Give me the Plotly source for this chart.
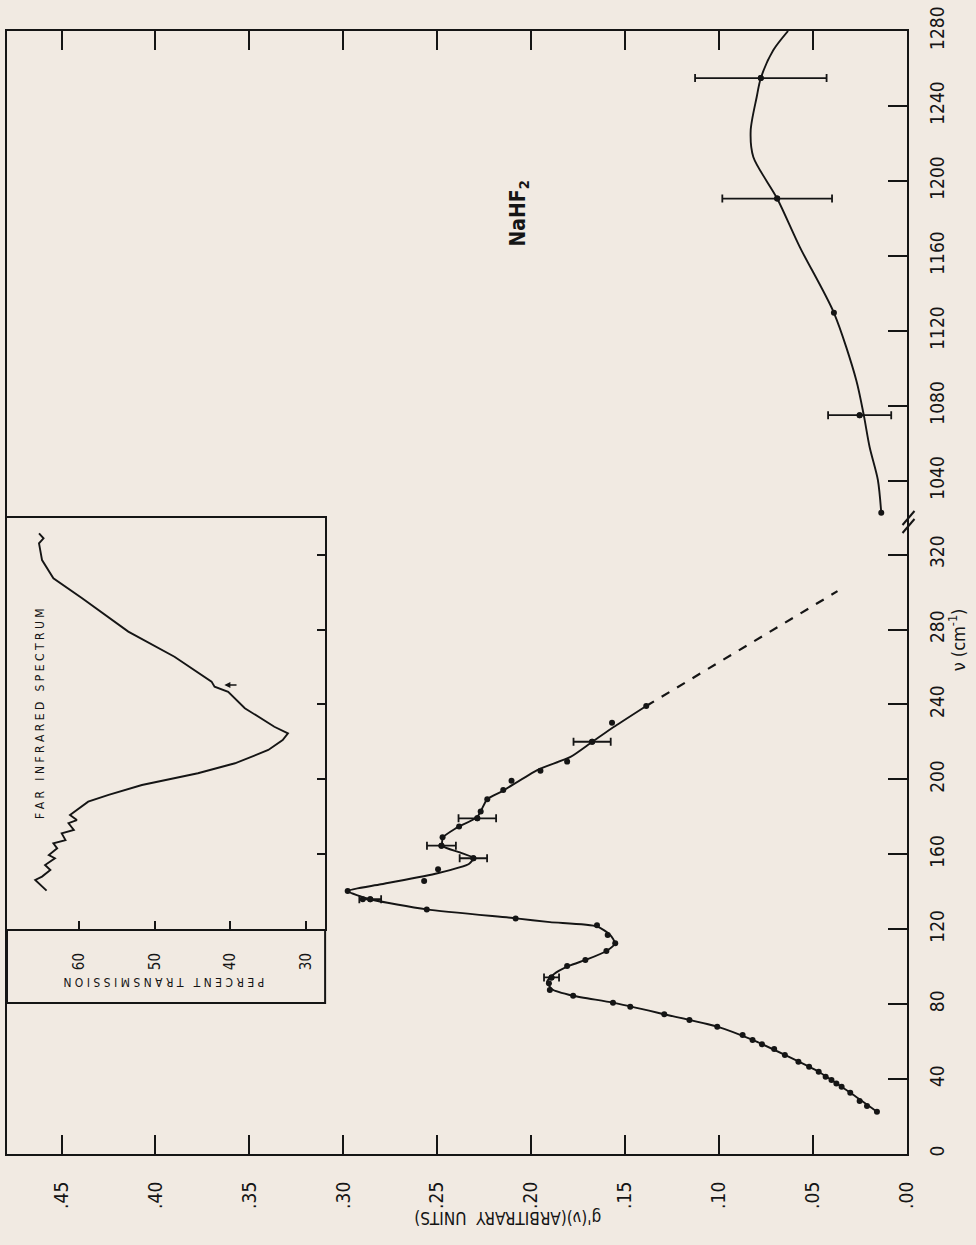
import plotly.graph_objects as go

# ---------------- data ----------------
# main measured points, lower wavenumber segment (nu in cm^-1, g'(nu) arbitrary units)
nu_pts_low = [22.6, 25.6, 28.3, 32.7, 35.9, 37.7, 39.5, 41.3, 43.9, 46.6, 49.3, 52.9, 56.1, 58.6,
              60.9, 63.5, 68.0, 71.5, 74.6, 78.6, 80.8, 84.5, 87.6, 91.1, 94.3, 100.4, 103.6, 108.4,
              112.5, 116.9, 122.1, 125.8, 130.6, 136.0, 136.0, 140.4, 145.8, 152.0, 157.9, 164.6,
              169.1, 174.8, 179.2, 182.8, 189.4, 194.3, 199.3, 204.6, 209.5, 220.1, 230.3, 239.2]
g_pts_low = [0.0160, 0.0213, 0.0252, 0.0302, 0.0348, 0.0376, 0.0402, 0.0433, 0.0470, 0.0521, 0.0578,
             0.0650, 0.0707, 0.0772, 0.0822, 0.0875, 0.1010, 0.1158, 0.1292, 0.1473, 0.1565, 0.1777,
             0.1901, 0.1906, 0.1892, 0.1809, 0.1712, 0.1600, 0.1553, 0.1593, 0.1650, 0.2083, 0.2556,
             0.2897, 0.2857, 0.2977, 0.2570, 0.2496, 0.2308, 0.2478, 0.2472, 0.2384, 0.2287, 0.2269,
             0.2234, 0.2149, 0.2105, 0.1951, 0.1809, 0.1676, 0.1570, 0.1388]

# points carrying error bars (lower segment)
nu_err_low = [94.3, 136.0, 157.9, 164.6, 179.2, 220.1]
g_err_low = [0.1892, 0.2857, 0.2308, 0.2478, 0.2287, 0.1676]
e_low = [0.0040, 0.0058, 0.0073, 0.0077, 0.0100, 0.0099]

# smooth curve drawn through the lower points
curve_nu_low = [22.6, 32.7, 43.9, 52.9, 60.9, 68.0, 74.6, 80.8, 84.5, 88.0, 92.0, 96.0, 100.4, 104.0,
                108.4, 112.5, 117.0, 121.5, 123.8, 125.8, 130.6, 136.0, 140.4, 144.0, 149.9, 155.0,
                158.0, 161.0, 164.5, 169.0, 174.0, 180.0, 189.4, 193.6, 205.0, 212.0, 220.0, 229.0, 239.2]
curve_g_low = [0.0160, 0.0302, 0.0470, 0.0650, 0.0822, 0.1010, 0.1292, 0.1565, 0.1777, 0.1890, 0.1915,
               0.1880, 0.1800, 0.1700, 0.1600, 0.1555, 0.1580, 0.1650, 0.1900, 0.2080, 0.2556, 0.2857,
               0.2977, 0.2800, 0.2499, 0.2330, 0.2308, 0.2380, 0.2472, 0.2470, 0.2400, 0.2287, 0.2234,
               0.2156, 0.1968, 0.1791, 0.1676, 0.1545, 0.1388]

# dashed extrapolation
dash_nu = [239.2, 300.5]
dash_g = [0.1388, 0.0370]

# upper wavenumber segment
nu_pts_high = [1022.9, 1075.0, 1129.6, 1190.6, 1254.9]
g_pts_high = [0.0137, 0.0252, 0.0389, 0.0691, 0.0778]
nu_err_high = [1075.0, 1190.6, 1254.9]
g_err_high = [0.0252, 0.0691, 0.0778]
e_high = [0.0168, 0.0292, 0.0350]
curve_nu_high = [1022.9, 1040.4, 1058.0, 1075.0, 1093.7, 1129.6, 1164.8, 1190.6, 1212.8, 1227.0,
                 1244.8, 1254.9, 1269.7, 1280.0]
curve_g_high = [0.0137, 0.0155, 0.0199, 0.0230, 0.0270, 0.0389, 0.0571, 0.0691, 0.0818, 0.0832,
                0.0800, 0.0778, 0.0712, 0.0633]

# inset: far infrared spectrum (nu, percent transmission)
ins_nu = [140.6, 146.3, 148.1, 151.6, 154.3, 157.9, 159.6, 163.2, 165.9, 167.6, 171.2, 173.0, 176.6,
          178.3, 181.0, 184.6, 188.1, 191.7, 197.0, 203.3, 208.6, 215.7, 221.0, 224.6, 228.1, 238.0,
          246.8, 249.5, 252.2, 265.5, 278.9, 296.7, 307.4, 317.1, 326.0, 328.7, 331.4]
ins_T = [64.3, 65.8, 64.9, 63.8, 64.5, 63.2, 64.0, 62.9, 63.4, 61.8, 62.3, 60.7, 61.4, 60.3, 61.2,
         59.9, 58.8, 56.1, 51.7, 44.3, 39.4, 35.0, 33.1, 32.4, 34.2, 38.1, 40.3, 42.1, 42.5, 47.4,
         53.5, 59.6, 63.4, 64.9, 65.3, 64.7, 65.3]

g_ticks = [0.00, 0.05, 0.10, 0.15, 0.20, 0.25, 0.30, 0.35, 0.40, 0.45]
g_ticklabels = [".00", ".05", ".10", ".15", ".20", ".25", ".30", ".35", ".40", ".45"]
nu_ticks_low = [0, 40, 80, 120, 160, 200, 240, 280, 320]
nu_ticks_high = [1040, 1080, 1120, 1160, 1200, 1240, 1280]
T_ticks = [30, 40, 50, 60]
ins_nu_ticks = [160, 200, 240, 280, 320]

# ---------------- layout geometry ----------------
W, H = 976, 1245
L, R, T, B = 5, 907.5, 31, 1154          # plot area in pixels
BREAK = 522                               # y pixel of the axis break
BG = "#f1eae2"
INK = "#151515"
FONT = "Liberation Sans Narrow, DejaVu Sans Condensed, Arial Narrow, Liberation Sans, sans-serif"


def px(x, y):
    return (x - L) / (R - L), (B - y) / (B - T)


split = (B - BREAK) / (B - T)
ins_x0, ins_y0 = px(5, 929)
ins_x1, ins_y1 = px(324, 518)

fig = go.Figure()

# ---- main lower segment ----
fig.add_trace(go.Scatter(x=curve_g_low, y=curve_nu_low, mode="lines", xaxis="x", yaxis="y",
                         line=dict(color=INK, width=1.9, shape="spline", smoothing=0.6),
                         showlegend=False, hoverinfo="skip"))
fig.add_trace(go.Scatter(x=dash_g, y=dash_nu, mode="lines", xaxis="x", yaxis="y",
                         line=dict(color=INK, width=2.2, dash="dash"), showlegend=False))
fig.add_trace(go.Scatter(x=g_pts_low, y=nu_pts_low, mode="markers", xaxis="x", yaxis="y",
                         marker=dict(color=INK, size=6), showlegend=False))
fig.add_trace(go.Scatter(x=g_err_low, y=nu_err_low, mode="markers", xaxis="x", yaxis="y",
                         marker=dict(color=INK, size=6),
                         error_x=dict(type="data", array=e_low, color=INK, thickness=1.8, width=4),
                         showlegend=False))

# ---- main upper segment ----
fig.add_trace(go.Scatter(x=curve_g_high, y=curve_nu_high, mode="lines", xaxis="x2", yaxis="y2",
                         line=dict(color=INK, width=1.9, shape="spline", smoothing=0.8),
                         showlegend=False))
fig.add_trace(go.Scatter(x=g_pts_high, y=nu_pts_high, mode="markers", xaxis="x2", yaxis="y2",
                         marker=dict(color=INK, size=6), showlegend=False))
fig.add_trace(go.Scatter(x=g_err_high, y=nu_err_high, mode="markers", xaxis="x2", yaxis="y2",
                         marker=dict(color=INK, size=6),
                         error_x=dict(type="data", array=e_high, color=INK, thickness=1.8, width=4),
                         showlegend=False))

# ---- inset ----
fig.add_trace(go.Scatter(x=ins_T, y=ins_nu, mode="lines", xaxis="x3", yaxis="y3",
                         line=dict(color=INK, width=1.9), showlegend=False))

g_range = [(R - L) / 1884.0, 0.0]
tickfont = dict(family=FONT, size=19, color=INK)

fig.update_layout(
    width=W, height=H,
    margin=dict(l=L, r=W - R, t=T, b=H - B),
    paper_bgcolor=BG, plot_bgcolor=BG,
    showlegend=False,
    xaxis=dict(domain=[0, 1], range=g_range, anchor="y", side="bottom",
               tickvals=g_ticks, ticktext=g_ticklabels, tickangle=-90,
               ticks="inside", ticklen=19, tickwidth=1.8, tickcolor=INK,
               showline=True, linecolor=INK, linewidth=2.2, mirror=False,
               showgrid=False, zeroline=False, tickfont=tickfont, ticklabelstandoff=18),
    xaxis2=dict(domain=[0, 1], range=g_range, anchor="y2", side="top",
                tickvals=g_ticks, showticklabels=False,
                ticks="inside", ticklen=19, tickwidth=1.8, tickcolor=INK,
                showline=True, linecolor=INK, linewidth=2.2,
                showgrid=False, zeroline=False),
    yaxis=dict(domain=[0, split], range=[0, (B - BREAK) / 1.873], anchor="x", side="right",
               tickvals=nu_ticks_low, ticktext=[str(v) for v in nu_ticks_low], tickangle=-90,
               ticks="inside", ticklen=19, tickwidth=1.8, tickcolor=INK,
               showline=True, linecolor=INK, linewidth=2.2, mirror=True,
               showgrid=False, zeroline=False, tickfont=tickfont, ticklabelstandoff=12),
    yaxis2=dict(domain=[split, 1], range=[1280 - (BREAK - T) / 1.874, 1280], anchor="x2", side="right",
                tickvals=nu_ticks_high, ticktext=[str(v) for v in nu_ticks_high], tickangle=-90,
                ticks="inside", ticklen=19, tickwidth=1.8, tickcolor=INK,
                showline=True, linecolor=INK, linewidth=2.2, mirror=True,
                showgrid=False, zeroline=False, tickfont=tickfont, ticklabelstandoff=12),
    xaxis3=dict(domain=[ins_x0, ins_x1], range=[69.53, 27.49], anchor="y3", side="bottom",
                tickvals=T_ticks, ticktext=[str(v) for v in T_ticks], tickangle=-90,
                ticks="inside", ticklen=8, tickwidth=1.5, tickcolor=INK,
                showline=True, linecolor=INK, linewidth=2, mirror=True,
                showgrid=False, zeroline=False,
                tickfont=dict(family=FONT, size=15, color=INK), ticklabelstandoff=16),
    yaxis3=dict(domain=[ins_y0, ins_y1], range=[(B - 929) / 1.873, (B - 518) / 1.873],
                anchor="x3", side="right",
                tickvals=ins_nu_ticks, showticklabels=False,
                ticks="inside", ticklen=8, tickwidth=1.5, tickcolor=INK,
                showline=True, linecolor=INK, linewidth=2, mirror=True,
                showgrid=False, zeroline=False),
)

# inset outer box
bx0, by0 = px(5, 1003)
fig.add_shape(type="rect", xref="paper", yref="paper", x0=bx0, y0=by0, x1=ins_x1, y1=ins_y1,
              line=dict(color=INK, width=2), fillcolor=BG, layer="below")

# axis-break marks on the right axis
for dy in (-4, 4):
    a = px(903, BREAK + dy + 7)
    b = px(915, BREAK + dy - 7)
    fig.add_shape(type="line", xref="paper", yref="paper", x0=a[0], y0=a[1], x1=b[0], y1=b[1],
                  line=dict(color=INK, width=2))


def note(text, x, y, angle, size, bold=False):
    p = px(x, y)
    fig.add_annotation(text=f"<b>{text}</b>" if bold else text, xref="paper", yref="paper",
                       x=p[0], y=p[1], showarrow=False, textangle=angle,
                       font=dict(family=FONT, size=size, color=INK),
                       xanchor="center", yanchor="middle")


note("g'(ν)(ARBITRARY  UNITS)", 507, 1218, 180, 17)
note("ν (cm<sup>-1</sup>)", 958, 640, -90, 18)
note("NaHF<sub>2</sub>", 518, 214, -90, 21, bold=True)
note("F A R   I N F R A R E D   S P E C T R U M", 38, 713, -90, 12)
note("P E R C E N T   T R A N S M I S S I O N", 162, 982, 180, 12)

# small arrow in the inset spectrum
fig.add_annotation(x=40.8, y=250.4, ax=39.0, ay=250.4, xref="x3", yref="y3", axref="x3", ayref="y3",
                   showarrow=True, arrowhead=2, arrowsize=0.8, arrowwidth=1.5, arrowcolor=INK, text="")

fig.write_html("out.html", config={"displayModeBar": False},
               post_script="document.body.style.margin='0px';document.body.style.background='%s';" % BG)
